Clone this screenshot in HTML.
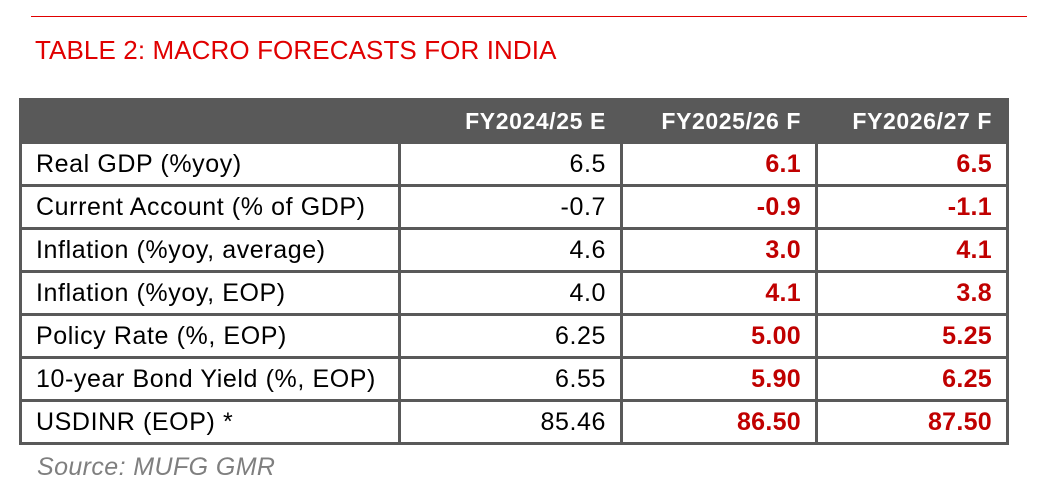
<!DOCTYPE html>
<html><head><meta charset="utf-8"><style>
body{margin:0;width:1037px;height:497px;background:#fff;position:relative;font-family:"Liberation Sans",Arial,sans-serif;overflow:hidden}
.rule{position:absolute;left:31px;top:16px;width:996px;height:1px;background:#e00000}
.title{position:absolute;left:35px;top:35px;font-size:26px;color:#e00000;letter-spacing:0.1px}
table{position:absolute;left:19px;top:98px;border-collapse:collapse;font-size:25px;letter-spacing:0.6px}
td,th{border:3px solid #595959;height:40px;padding:0 14px 0 14px;text-align:right;color:#000}
th{background:#595959;color:#fff;font-weight:bold;border-color:#595959;font-size:23px;letter-spacing:0.6px}
td:first-child{text-align:left}
.r{color:#c00000;font-weight:bold;letter-spacing:0.3px}
.src{position:absolute;left:37px;top:453px;font-size:25px;font-style:italic;color:#7f7f7f;letter-spacing:0.4px}
</style></head><body>
<div class="rule"></div>
<div class="title">TABLE 2: MACRO FORECASTS FOR INDIA</div>
<table>
<colgroup><col style="width:379px"><col style="width:222px"><col style="width:195px"><col style="width:191px"></colgroup>
<tr><th></th><th>FY2024/25 E</th><th>FY2025/26 F</th><th>FY2026/27 F</th></tr>
<tr><td>Real GDP (%yoy)</td><td>6.5</td><td class="r">6.1</td><td class="r">6.5</td></tr>
<tr><td>Current Account (% of GDP)</td><td>-0.7</td><td class="r">-0.9</td><td class="r">-1.1</td></tr>
<tr><td>Inflation (%yoy, average)</td><td>4.6</td><td class="r">3.0</td><td class="r">4.1</td></tr>
<tr><td>Inflation (%yoy, EOP)</td><td>4.0</td><td class="r">4.1</td><td class="r">3.8</td></tr>
<tr><td>Policy Rate (%, EOP)</td><td>6.25</td><td class="r">5.00</td><td class="r">5.25</td></tr>
<tr><td>10-year Bond Yield (%, EOP)</td><td>6.55</td><td class="r">5.90</td><td class="r">6.25</td></tr>
<tr><td>USDINR (EOP) *</td><td>85.46</td><td class="r">86.50</td><td class="r">87.50</td></tr>
</table>
<div class="src">Source: MUFG GMR</div>
</body></html>
